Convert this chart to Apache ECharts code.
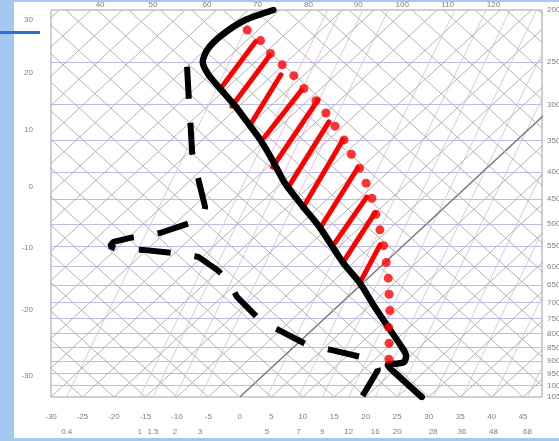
<!DOCTYPE html>
<html><head><meta charset="utf-8">
<script src="https://cdn.jsdelivr.net/npm/echarts@6/dist/echarts.min.js"></script>
<style>html,body{margin:0;padding:0;background:#fff;}#c{width:559px;height:441px;}</style>
</head><body><div id="c"></div>
<script>
// ---------- sounding data (pressure hPa, temperature °C) ----------
const tempP = [200, 209, 223, 237, 250, 264, 282, 301, 323, 349, 380, 420, 465, 509, 589, 644, 714, 788, 851, 881, 904, 910, 915, 964, 1050];
const tempT = [-61.0, -63.8, -64.9, -64.7, -63.3, -60.2, -55.5, -50.8, -46.0, -40.8, -35.5, -29.5, -22.5, -16.2, -6.8, -0.5, 6.0, 12.4, 17.4, 19.4, 20.1, 19.2, 18.0, 22.0, 28.9];

// dew point, from the surface upward
const dewP = [1045, 935, 904, 885, 859, 840, 791, 755, 684, 636, 609, 576, 566, 559, 557, 550, 540, 531, 520, 498, 483, 465, 414, 369, 327, 292, 255];
const dewT = [19.3, 17.3, 15.6, 12.5, 6.6, 1.8, -4.9, -10.0, -17.6, -21.9, -25.4, -30.6, -35.5, -40.6, -45.0, -46.5, -46.7, -44.7, -40.8, -37.7, -36.9, -38.1, -43.8, -49.4, -54.5, -59.3, -65.0];

const parcelP = [218, 228, 241, 253, 265, 280, 295, 311, 329, 349, 371, 394, 420, 448, 480, 513, 549, 590, 631, 676, 725, 779, 834, 893];
const parcelT = [-61.7, -57.8, -54.0, -50.2, -46.5, -42.7, -38.7, -35.0, -31.3, -27.5, -23.9, -20.2, -16.6, -13.1, -9.7, -6.4, -3.1, 0.2, 3.2, 6.1, 9.0, 11.7, 14.5, 17.2];

const hatchTopP = [229, 243, 264, 282, 294, 323, 349, 394, 446, 477, 547];
const hatchTopT = [-58.4, -53.8, -48.7, -42.8, -38.5, -33.0, -27.7, -20.5, -14.1, -10.1, -3.8];
const hatchBotP = [278, 302, 327, 345, 392, 429, 467, 509, 543, 589, 641];
const hatchBotT = [-56.0, -51.1, -45.0, -40.6, -34.2, -28.2, -22.4, -16.2, -11.3, -6.7, -0.6];

// ---------- labels ----------
const pressureTicks = [200,250,300,350,400,450,500,550,600,650,700,750,800,850,900,950,1000,1050];
const mixLabels = ['0.4','1','1.5','2','3','5','7','9','12','16','20','28','36','48','68'];
const mixBaseT  = [-27.5,-15.9,-13.8,-10.3,-6.3,4.3,9.3,13.1,17.3,21.5,25.0,30.7,35.3,40.3,45.7];
const topLabels = ['40','50','60','70','80','90','100','110','120'];
const topX      = [-22.2,-13.8,-5.2,2.8,10.9,18.8,25.8,33.0,40.3];
const leftLabels = ['30','20','10','0','-10','-20','-30'];
const leftP      = [209,262,334,427,554,723,960];

// ---------- diagram geometry ----------
const P0 = 1050, PTOP = 200, SKEW = 40;       // isotherm skew (°C per ln p)
const ADIAB = 80.8;                             // guide dry-adiabat drop (°C per ln p)
const MIXDRIFT = 22;                            // mixing-ratio line drop (°C per ln p)
const XMIN = -30, XMAX = 48;
const sk = (T, p) => T + SKEW * Math.log(P0 / p);
const L = Math.log(P0 / PTOP);

const isoT = []; for (let t = -100; t <= 45; t += 5) isoT.push(t);
const adiabBase = []; for (let t = -30; t <= 115; t += 5) adiabBase.push(t);

const isobarLines = pressureTicks.slice(1, -1).map(p => ({coords: [[XMIN, p], [XMAX, p]]}));
const isothermLines = isoT.map(t => ({coords: [[sk(t, P0), P0], [sk(t, PTOP), PTOP]],
  lineStyle: t === 0 ? {color: '#787878', width: 1.5} : undefined}));
const adiabLines = adiabBase.map(t => ({coords: [[t, P0], [sk(t - ADIAB * L, PTOP), PTOP]]}));
const mixLines = mixBaseT.map(t => ({coords: [[t, P0], [sk(t - MIXDRIFT * L, PTOP), PTOP]]}));
const hatchLines = hatchTopP.map((p, i) => ({coords: [[sk(hatchTopT[i], p), p], [sk(hatchBotT[i], hatchBotP[i]), hatchBotP[i]]]}));

const tempData = tempP.map((p, i) => [sk(tempT[i], p), p]);
const dewData = dewP.map((p, i) => [sk(dewT[i], p), p]);
const parcelData = parcelP.map((p, i) => [sk(parcelT[i], p), p]);

function lookup(vals, labels) {
  return v => { let bi = 0, bd = Infinity; vals.forEach((x, i) => { const d = Math.abs(x - v); if (d < bd) { bd = d; bi = i; } }); return labels[bi]; };
}
const lblStyle = {color: '#808080', fontSize: 8, fontFamily: 'Liberation Sans, Arial, sans-serif'};

const chart = echarts.init(document.getElementById('c'), null, {renderer: 'canvas'});
chart.setOption({
  animation: false,
  backgroundColor: '#ffffff',
  graphic: [
    {type: 'rect', shape: {x: 0, y: 0, width: 14, height: 441}, style: {fill: '#a4c8f0'}, silent: true},
    {type: 'rect', shape: {x: 0, y: 0, width: 559, height: 2}, style: {fill: '#a4c8f0'}, silent: true},
    {type: 'rect', shape: {x: 0, y: 438, width: 559, height: 3}, style: {fill: '#a4c8f0'}, silent: true},
    {type: 'rect', shape: {x: 0, y: 31, width: 40, height: 3}, style: {fill: '#2d6fd2'}, silent: true}
  ],
  grid: {left: 51, right: 17, top: 10, bottom: 44, show: true, borderColor: '#a0a0a0', borderWidth: 1, backgroundColor: '#fff', outerBoundsMode: 'none'},
  xAxis: [
    {type: 'value', position: 'bottom', min: XMIN, max: XMAX, interval: 5,
      axisLine: {show: false}, axisTick: {show: false}, splitLine: {show: false},
      axisLabel: Object.assign({margin: 16, showMaxLabel: false}, lblStyle)},
    {type: 'value', position: 'bottom', min: XMIN, max: XMAX,
      axisLine: {show: false}, axisTick: {show: false}, splitLine: {show: false},
      axisLabel: Object.assign({margin: 31, customValues: mixBaseT, formatter: lookup(mixBaseT, mixLabels)}, lblStyle)},
    {type: 'value', position: 'top', min: XMIN, max: XMAX,
      axisLine: {show: false}, axisTick: {show: false}, splitLine: {show: false},
      axisLabel: Object.assign({margin: 1, customValues: topX, formatter: lookup(topX, topLabels)}, lblStyle)}
  ],
  yAxis: [
    {type: 'log', position: 'right', min: PTOP, max: P0, inverse: true, logBase: 10,
      axisLine: {show: false}, axisTick: {show: false}, splitLine: {show: false},
      axisLabel: Object.assign({margin: 5, customValues: pressureTicks, formatter: lookup(pressureTicks, pressureTicks.map(String))}, lblStyle)},
    {type: 'log', position: 'left', min: PTOP, max: P0, inverse: true, logBase: 10,
      axisLine: {show: false}, axisTick: {show: false}, splitLine: {show: false},
      axisLabel: Object.assign({margin: 18, customValues: leftP, formatter: lookup(leftP, leftLabels)}, lblStyle)}
  ],
  series: [
    {type: 'lines', coordinateSystem: 'cartesian2d', xAxisIndex: 0, yAxisIndex: 0, silent: true, z: 1,
      lineStyle: {color: '#bdbde0', width: 1, opacity: 1}, data: isobarLines},
    {type: 'lines', coordinateSystem: 'cartesian2d', xAxisIndex: 0, yAxisIndex: 0, silent: true, z: 1,
      lineStyle: {color: '#ecc2da', width: 1, opacity: 1}, data: mixLines},
    {type: 'lines', coordinateSystem: 'cartesian2d', xAxisIndex: 0, yAxisIndex: 0, silent: true, z: 2,
      lineStyle: {color: '#b3b3b3', width: 1, opacity: 1}, data: isothermLines},
    {type: 'lines', coordinateSystem: 'cartesian2d', xAxisIndex: 0, yAxisIndex: 0, silent: true, z: 2,
      lineStyle: {color: '#b3b3b3', width: 1, opacity: 1}, data: adiabLines},
    {type: 'lines', coordinateSystem: 'cartesian2d', xAxisIndex: 0, yAxisIndex: 0, silent: true, z: 5,
      lineStyle: {color: '#ff0000', width: 5, cap: 'round', opacity: 1}, data: hatchLines},
    {type: 'line', xAxisIndex: 0, yAxisIndex: 0, data: dewData, showSymbol: false, z: 6, silent: true,
      lineStyle: {color: '#000', width: 6, type: [32, 24], cap: 'butt'}},
    {type: 'line', xAxisIndex: 0, yAxisIndex: 0, data: tempData, showSymbol: false, z: 6, silent: true, smooth: 0.25,
      lineStyle: {color: '#000', width: 6.5, cap: 'round', join: 'round'}},
    {type: 'scatter', xAxisIndex: 0, yAxisIndex: 0, data: parcelData, symbolSize: 9, z: 7, silent: true,
      itemStyle: {color: '#ff0000'}}
  ]
});
</script></body></html>
